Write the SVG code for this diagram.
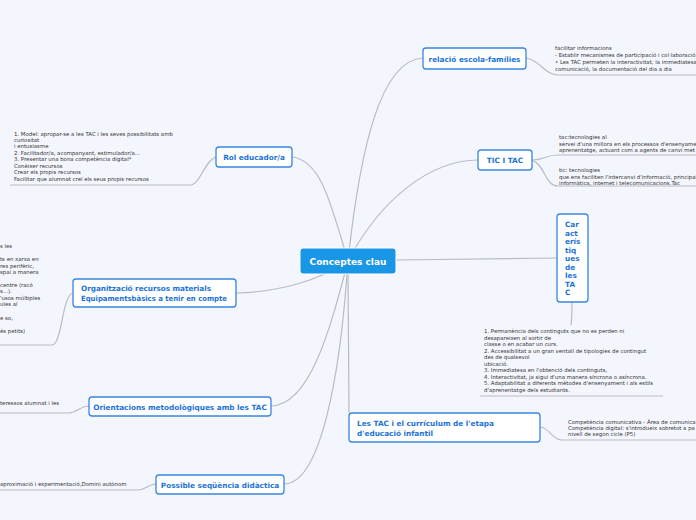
<svg xmlns="http://www.w3.org/2000/svg" width="696" height="520" viewBox="0 0 696 520">
<style>
.n rect{fill:#fff;stroke:#3a86e0;stroke-width:1.3}
.n text{font-family:"DejaVu Sans",sans-serif;font-weight:bold;font-size:7.3px;fill:#1c74d8}
.t{font-family:"DejaVu Sans",sans-serif;font-size:5.4px;fill:#333}
.c path{fill:none;stroke:#b9bcc4;stroke-width:1.2}
</style>
<rect width="696" height="520" fill="#f3f6fd"/>
<g class="c">
<path d="M348,261 C360,150 380,60 423,58"/>
<path d="M348,261 C330,200 320,160 292,157"/>
<path d="M348,261 C380,200 430,160 478,160"/>
<path d="M396,260 L557,258"/>
<path d="M348,261 C320,280 280,292 236,293"/>
<path d="M348,261 C330,330 310,405 271,406"/>
<path d="M348,274 L349,413"/>
<path d="M348,261 C340,380 320,484 284,484"/>
<path d="M526,58 C540,60 545,75 558,75 L696,75"/>
<path d="M532,160 C545,160 545,155 558,155 L696,155"/>
<path d="M532,160 C545,165 545,186 558,186 L696,186"/>
<path d="M572,302 C572,310 572,318 571,325"/>
<path d="M480,396 L663,396"/>
<path d="M540,427 C550,428 552,440 562,440 L696,440"/>
<path d="M216,157 C205,160 200,185 190,185 L10,185"/>
<path d="M73,293 C62,295 62,345 52,345 L0,345"/>
<path d="M89,406 C80,406 78,413 68,413 L0,413"/>
<path d="M156,484 C148,484 146,490 138,490 L0,490"/>
</g>
<g id="center"><rect x="300" y="248" width="96" height="26" rx="3" fill="#1a96e6" stroke="#fff" stroke-width="1"/><text x="348" y="264.5" text-anchor="middle" font-family="DejaVu Sans,sans-serif" font-weight="bold" font-size="9px" fill="#fff">Conceptes clau</text></g>
<g id="n1" class="n"><rect x="423" y="48" width="103" height="21" rx="3"/><text x="474.5" y="61.5" text-anchor="middle">relació escola-famílies</text></g>
<g id="n2" class="n"><rect x="216" y="147" width="76" height="20" rx="3"/><text x="254" y="160" text-anchor="middle">Rol educador/a</text></g>
<g id="n3" class="n"><rect x="478" y="150" width="54" height="20" rx="3"/><text x="505" y="163" text-anchor="middle">TIC I TAC</text></g>
<g id="n4" class="n"><rect x="557" y="214" width="31" height="88" rx="3"/><text x="565" y="227"><tspan x="565">Car</tspan><tspan x="565" dy="8.5">act</tspan><tspan x="565" dy="8.5">erís</tspan><tspan x="565" dy="8.5">tiq</tspan><tspan x="565" dy="8.5">ues</tspan><tspan x="565" dy="8.5">de</tspan><tspan x="565" dy="8.5">les</tspan><tspan x="565" dy="8.5">TA</tspan><tspan x="565" dy="8.5">C</tspan></text></g>
<g id="n5" class="n"><rect x="73" y="279" width="163" height="28" rx="3"/><text x="81" y="291" textLength="130">Organització recursos materials</text><text x="81" y="301" textLength="146" lengthAdjust="spacingAndGlyphs">Equipamentsbàsics a tenir en compte</text></g>
<g id="n6" class="n"><rect x="89" y="397" width="182" height="19" rx="3"/><text x="180" y="409.5" text-anchor="middle">Orientacions metodològiques amb les TAC</text></g>
<g id="n7" class="n"><rect x="349" y="413" width="191" height="29" rx="3"/><text x="357" y="426">Les TAC i el currículum de l'etapa</text><text x="357" y="435.5">d'educació infantil</text></g>
<g id="n8" class="n"><rect x="156" y="475" width="128" height="19" rx="3"/><text x="220" y="487.5" text-anchor="middle">Possible seqüència didàctica</text></g>
<g class="t">
<text x="555" y="50">facilitar informacions</text>
<text x="555" y="57">- Establir mecanismes de participació i col·laboració</text>
<text x="555" y="64">• Les TAC permeten la interactivitat, la immediatesa</text>
<text x="555" y="71">comunicació, la documentació del dia a dia</text>
<text x="559" y="139">tac:tecnologies al</text>
<text x="559" y="146">servei d'una millora en els processos d'ensenyament</text>
<text x="559" y="152">aprenentatge, actuant com a agents de canvi met</text>
<text x="559" y="172">tic: tecnologies</text>
<text x="559" y="179">que ens faciliten l'intercanvi d'informació, principal</text>
<text x="559" y="185">informàtica, internet i telecomunicacions.Tac</text>
<text x="484" y="333">1. Permanència dels continguts que no es perden ni</text>
<text x="484" y="340">desapareixen al sortir de</text>
<text x="484" y="346">classe o en acabar un curs.</text>
<text x="484" y="353">2. Accessibilitat a un gran ventall de tipologies de contingut</text>
<text x="484" y="359">des de qualsevol</text>
<text x="484" y="366">ubicació.</text>
<text x="484" y="372">3. Immediatesa en l'obtenció dels continguts,</text>
<text x="484" y="379">4. Interactivitat, ja sigui d'una manera síncrona o asíncrona.</text>
<text x="484" y="385">5. Adaptabilitat a diferents mètodes d'ensenyament i als estils</text>
<text x="484" y="392">d'aprenentatge dels estudiants.</text>
<text x="568" y="424">Competència comunicativa - Àrea de comunica</text>
<text x="568" y="430">Competència digital: s'introdueix sobretot a pa</text>
<text x="568" y="436">nivell de segon cicle (P5)</text>
<text x="14" y="136">1. Model: apropar-se a les TAC i les seves possibilitats amb</text>
<text x="14" y="142">curiositat</text>
<text x="14" y="148">i entusiasme</text>
<text x="14" y="155">2. Facilitador/a, acompanyant, estimulador/a...</text>
<text x="14" y="161">3. Presentar una bona competència digital*</text>
<text x="14" y="168">Conèixer recursos</text>
<text x="14" y="174">Crear els propis recursos</text>
<text x="14" y="181">Facilitar que alumnat creï els seus propis recursos</text>
<text x="0" y="248">s les</text>
<text x="0" y="261">ts en xarxa en</text>
<text x="0" y="268">res perifèric,</text>
<text x="0" y="274">spai a manera</text>
<text x="0" y="287"> centre (racó</text>
<text x="0" y="293">s...).</text>
<text x="0" y="300">'usos múltiples</text>
<text x="0" y="306">ules al</text>
<text x="0" y="320">e so,</text>
<text x="0" y="333">és petits)</text>
<text x="0" y="405">teressos alumnat i les</text>
<text x="0" y="486">aproximació i experimentació,Domini autònom</text>
</g>
</svg>
